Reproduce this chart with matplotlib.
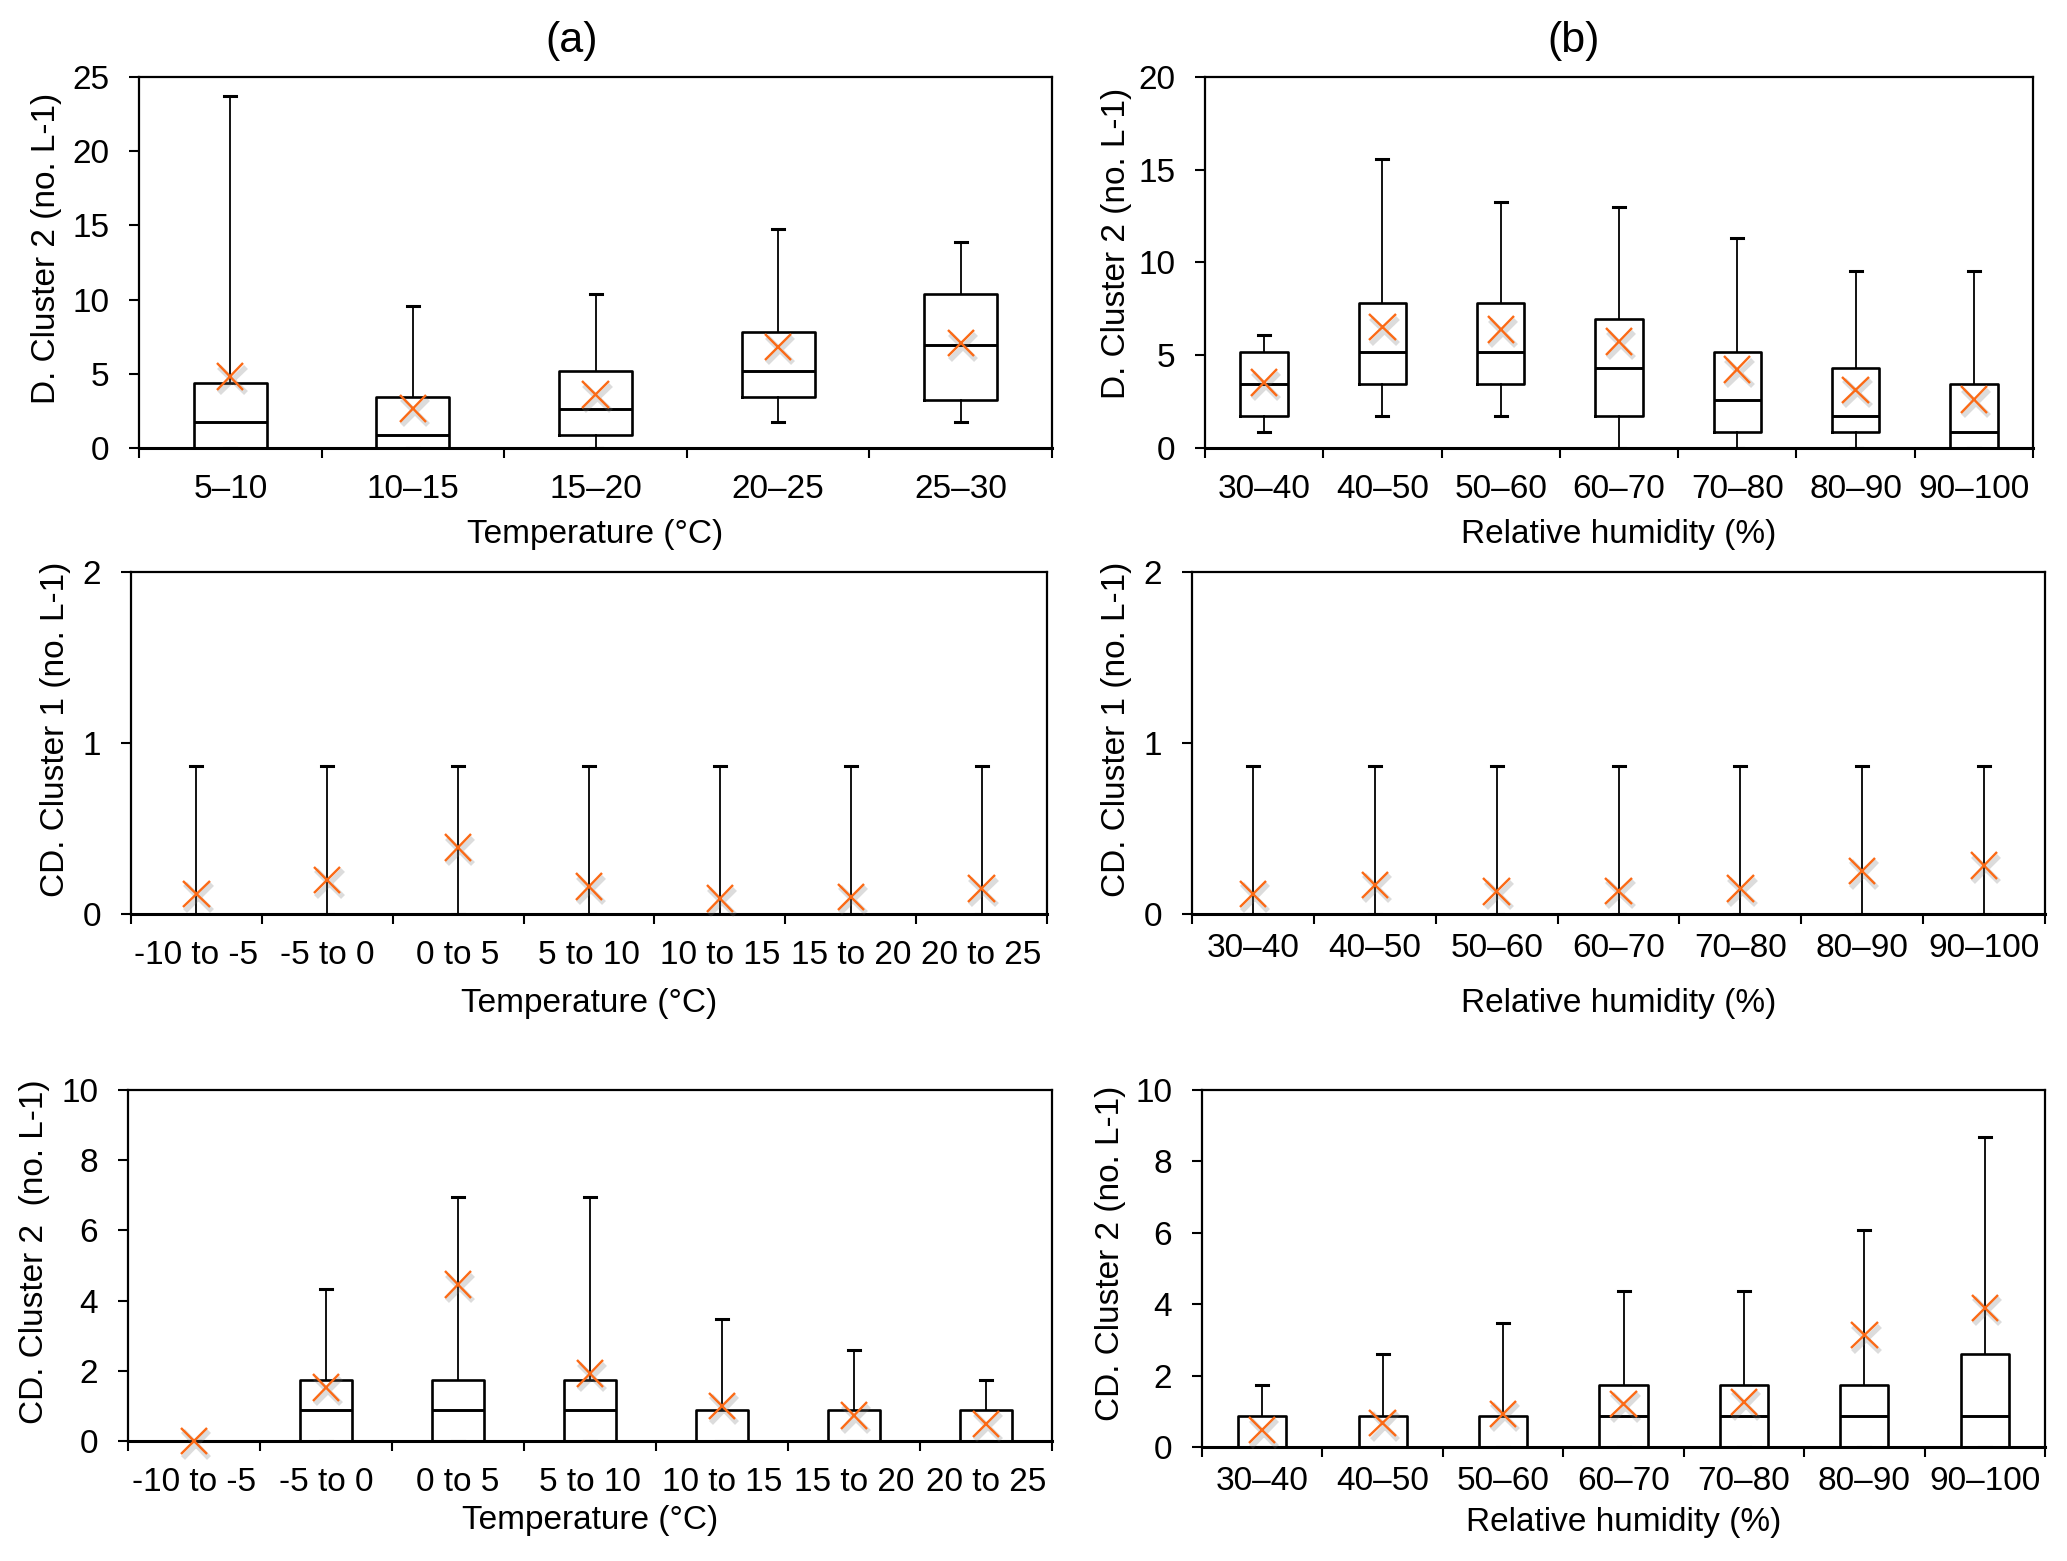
import matplotlib
matplotlib.use('Agg')
import matplotlib.pyplot as plt
import matplotlib.patheffects as pe

plt.rcParams['font.family'] = ['Liberation Sans', 'DejaVu Sans']

# ---------------- data ----------------
temp_d = ['5–10', '10–15', '15–20', '20–25', '25–30']
rh_cats = ['30–40', '40–50', '50–60', '60–70', '70–80', '80–90', '90–100']
temp_cd = ['-10 to -5', '-5 to 0', '0 to 5', '5 to 10', '10 to 15', '15 to 20', '20 to 25']

# (a) D. Cluster 2 vs temperature
a1_whislo = [0, 0, 0, 1.73, 1.73]
a1_q1 = [0, 0, 0.87, 3.47, 3.25]
a1_med = [1.73, 0.87, 2.6, 5.2, 6.96]
a1_q3 = [4.35, 3.47, 5.2, 7.8, 10.4]
a1_whishi = [23.7, 9.54, 10.4, 14.75, 13.9]
a1_mean = [4.82, 2.67, 3.61, 6.82, 7.06]

# (b) D. Cluster 2 vs relative humidity
b1_whislo = [0.87, 1.73, 1.73, 0, 0, 0, 0]
b1_q1 = [1.73, 3.47, 3.47, 1.73, 0.87, 0.87, 0]
b1_med = [3.47, 5.2, 5.2, 4.33, 2.6, 1.73, 0.87]
b1_q3 = [5.2, 7.8, 7.8, 6.93, 5.2, 4.33, 3.47]
b1_whishi = [6.07, 15.6, 13.25, 13.0, 11.3, 9.54, 9.54]
b1_mean = [3.53, 6.51, 6.38, 5.74, 4.24, 3.14, 2.62]

# (a) CD. Cluster 1 vs temperature
a2_whislo = [0, 0, 0, 0, 0, 0, 0]
a2_q1 = [0, 0, 0, 0, 0, 0, 0]
a2_med = [0, 0, 0, 0, 0, 0, 0]
a2_q3 = [0, 0, 0, 0, 0, 0, 0]
a2_whishi = [0.867, 0.867, 0.867, 0.867, 0.867, 0.867, 0.867]
a2_mean = [0.117, 0.199, 0.389, 0.160, 0.090, 0.101, 0.150]

# (b) CD. Cluster 1 vs relative humidity
b2_whislo = [0, 0, 0, 0, 0, 0, 0]
b2_q1 = [0, 0, 0, 0, 0, 0, 0]
b2_med = [0, 0, 0, 0, 0, 0, 0]
b2_q3 = [0, 0, 0, 0, 0, 0, 0]
b2_whishi = [0.867, 0.867, 0.867, 0.867, 0.867, 0.867, 0.867]
b2_mean = [0.117, 0.171, 0.132, 0.136, 0.148, 0.251, 0.284]

# (a) CD. Cluster 2 vs temperature
a3_whislo = [0, 0, 0, 0, 0, 0, 0]
a3_q1 = [0, 0, 0, 0, 0, 0, 0]
a3_med = [0, 0.87, 0.87, 0.87, 0, 0, 0]
a3_q3 = [0, 1.73, 1.73, 1.73, 0.87, 0.87, 0.87]
a3_whishi = [0, 4.34, 6.96, 6.96, 3.48, 2.6, 1.73]
a3_mean = [0, 1.52, 4.46, 1.92, 1.0, 0.73, 0.49]

# (b) CD. Cluster 2 vs relative humidity
b3_whislo = [0, 0, 0, 0, 0, 0, 0]
b3_q1 = [0, 0, 0, 0, 0, 0, 0]
b3_med = [0, 0, 0, 0.87, 0.87, 0.87, 0.87]
b3_q3 = [0.87, 0.87, 0.87, 1.75, 1.75, 1.75, 2.61]
b3_whishi = [1.75, 2.61, 3.48, 4.36, 4.36, 6.09, 8.69]
b3_mean = [0.47, 0.67, 0.93, 1.20, 1.26, 3.13, 3.90]

yt_a1 = [0, 5, 10, 15, 20, 25]
yt_b1 = [0, 5, 10, 15, 20]
yt_cd1 = [0, 1, 2]
yt_cd2 = [0, 2, 4, 6, 8, 10]

# ---------------- figure ----------------
W, H = 2067, 1561
fig = plt.figure(figsize=(W / 100, H / 100), dpi=100)
ORANGE = '#FB6A16'
FS = 24


def panel(rect, labels, whislo, q1, med, q3, whishi, mean, yticks, ylabel, xlabel,
          ylab_x, ylab_y, xlab_y, xpad):
    l, t, r, b = rect
    ax = fig.add_axes([l / W, 1 - b / H, (r - l) / W, (b - t) / H])
    n = len(labels)
    stats = [dict(whislo=whislo[i], q1=q1[i], med=med[i], q3=q3[i],
                  whishi=whishi[i], mean=mean[i], fliers=[]) for i in range(n)]
    slot_px = (r - l) / n
    art = ax.bxp(stats, positions=list(range(n)), widths=0.4, capwidths=12 / slot_px,
                 showmeans=True, showfliers=False, manage_ticks=False,
                 boxprops=dict(color='black', linewidth=1.9),
                 medianprops=dict(color='black', linewidth=2.1),
                 whiskerprops=dict(color='black', linewidth=1.3),
                 capprops=dict(color='black', linewidth=2.2),
                 meanprops=dict(marker='x', markersize=19, markeredgewidth=1.7,
                                markeredgecolor=ORANGE, linestyle='none'))
    for m in art['means']:
        m.set_clip_on(False)
        m.set_zorder(5)
        m.set_path_effects([pe.SimpleLineShadow(offset=(1.5, -2.5), shadow_color='#777777',
                                                alpha=0.25, linewidth=4), pe.Normal()])
    ax.set_xlim(-0.5, n - 0.5)
    ax.set_xticks(list(range(n)))
    ax.set_xticklabels(labels)
    ax.set_xticks([i - 0.5 for i in range(n + 1)], minor=True)
    ax.tick_params(axis='x', which='major', length=0, pad=xpad, labelsize=FS)
    ax.tick_params(axis='x', which='minor', length=7.5, width=1.5, direction='out')
    ax.set_ylim(yticks[0], yticks[-1])
    ax.set_yticks(yticks)
    ax.tick_params(axis='y', length=7.5, width=1.5, direction='out', pad=14, labelsize=FS)
    for s in ax.spines.values():
        s.set_linewidth(1.6)
    ax.spines['bottom'].set_linewidth(2.2)
    ax.set_ylabel(ylabel, fontsize=FS, va='center')
    ax.yaxis.set_label_coords((ylab_x - l) / (r - l), (b - ylab_y) / (b - t))
    ax.set_xlabel(xlabel, fontsize=FS, va='center')
    ax.xaxis.set_label_coords(0.5, (b - xlab_y) / (b - t))
    return ax


panel((139, 77, 1052, 448), temp_d, a1_whislo, a1_q1, a1_med, a1_q3, a1_whishi, a1_mean,
      yt_a1, 'D. Cluster 2 (no. L-1)', 'Temperature (°C)', 47, 248, 534, 19)
panel((1205, 77, 2033, 448), rh_cats, b1_whislo, b1_q1, b1_med, b1_q3, b1_whishi, b1_mean,
      yt_b1, 'D. Cluster 2 (no. L-1)', 'Relative humidity (%)', 1116, 243, 534, 19)
panel((131, 572, 1047, 914), temp_cd, a2_whislo, a2_q1, a2_med, a2_q3, a2_whishi, a2_mean,
      yt_cd1, 'CD. Cluster 1 (no. L-1)', 'Temperature (°C)', 56, 729, 1003, 19)
panel((1192, 572, 2045, 914), rh_cats, b2_whislo, b2_q1, b2_med, b2_q3, b2_whishi, b2_mean,
      yt_cd1, 'CD. Cluster 1 (no. L-1)', 'Relative humidity (%)', 1117, 729, 1003, 14)
panel((128, 1090, 1052, 1441), temp_cd, a3_whislo, a3_q1, a3_med, a3_q3, a3_whishi, a3_mean,
      yt_cd2, 'CD. Cluster 2  (no. L-1)', 'Temperature (°C)', 35, 1252, 1521, 19)
panel((1202, 1090, 2045, 1447), rh_cats, b3_whislo, b3_q1, b3_med, b3_q3, b3_whishi, b3_mean,
      yt_cd2, 'CD. Cluster 2 (no. L-1)', 'Relative humidity (%)', 1111, 1253, 1523, 14)

fig.text(572 / W, 1 - 41 / H, '(a)', fontsize=31, ha='center', va='center')
fig.text(1574 / W, 1 - 41 / H, '(b)', fontsize=31, ha='center', va='center')

fig.savefig('out.png', dpi=100)
